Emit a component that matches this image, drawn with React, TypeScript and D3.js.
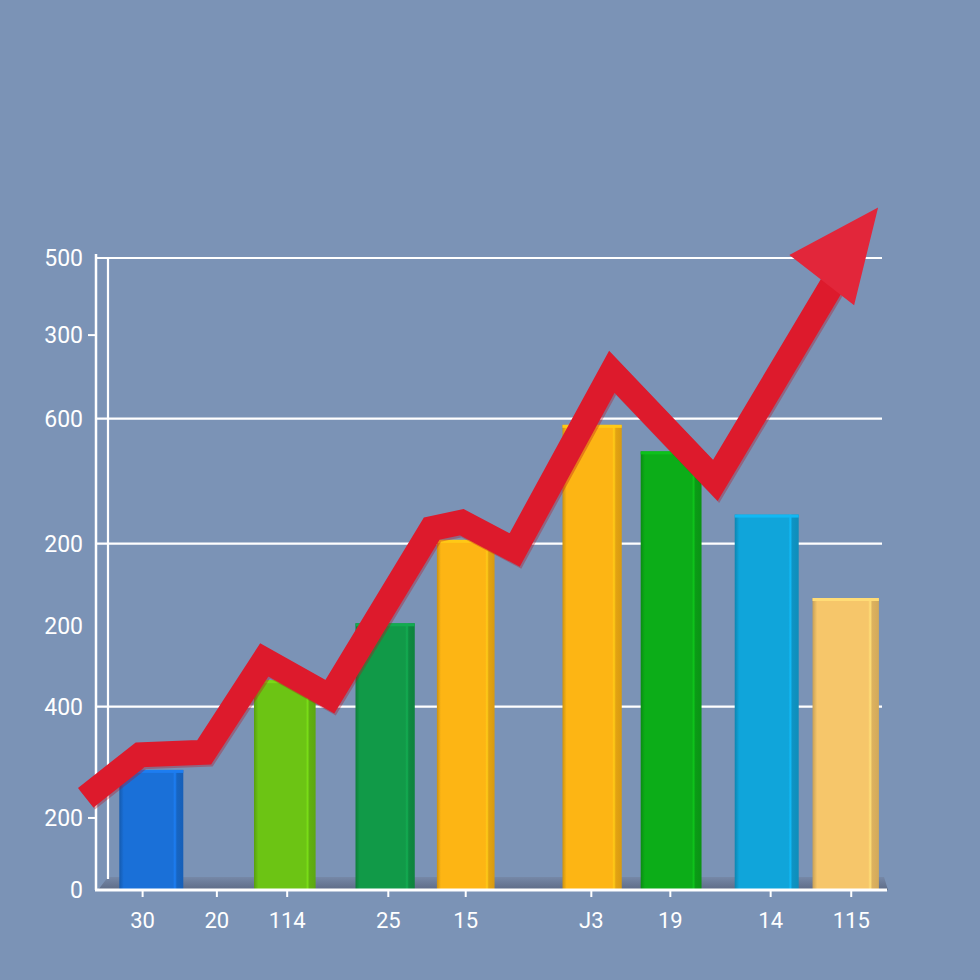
import React from "react";
import * as d3 from "d3";

// ---- data ----
const yTickValues = [500, 439, 373, 274, 209, 145, 57, 0];
const yTickLabels = ["500", "300", "600", "200", "200", "400", "200", "0"];
const gridValues = [500, 373, 274, 145];
const tickMarkValues = [439, 57];

const xLabels = ["30", "20", "114", "25", "15", "J3", "19", "14", "115"];
const xLabelPos = [5.9, 15.3, 24.2, 37.0, 46.8, 62.7, 72.7, 85.4, 95.6];

const barX = [7.0, 23.9, 36.6, 46.8, 62.8, 72.8, 84.9, 94.9];
const barW = [8.1, 7.8, 7.5, 7.3, 7.5, 7.7, 8.1, 8.4];
const barValues = [95, 166, 211, 277, 368, 347, 297, 231];
const barColors = ["#1a70d8", "#6cc414", "#119a48", "#fdb514", "#fdb514", "#0cad18", "#10a5da", "#f6c66a"];

const lineX = [-1.3, 5.6, 13.7, 21.3, 29.6, 42.5, 46.3, 53.0, 65.3, 78.4, 99.0];
const lineY = [73, 107, 109, 182, 153, 286, 291, 269, 410, 324, 540];

const W = 980;
const H = 980;
const BG = "#7b93b6";

export default function App() {
  const x = d3.scaleLinear().domain([0, 100]).range([96, 886]);
  const y = d3.scaleLinear().domain([0, 500]).range([890, 258]);

  const pts: [number, number][] = lineX.map((v, i) => [x(v), y(lineY[i])]);
  const tip = pts[pts.length - 1];
  const prev = pts[pts.length - 2];
  const segAng = Math.atan2(tip[1] - prev[1], tip[0] - prev[0]);
  const headAng = segAng + (7 * Math.PI) / 180;
  const ux = Math.cos(headAng);
  const uy = Math.sin(headAng);
  const headLen = 92;
  const headHalf = 41;
  const base: [number, number] = [tip[0] - ux * headLen, tip[1] - uy * headLen];
  const sux = Math.cos(segAng);
  const suy = Math.sin(segAng);
  const shaftEnd: [number, number] = [tip[0] - sux * (headLen - 8), tip[1] - suy * (headLen - 8)];
  const px = -uy;
  const py = ux;
  const head = [
    tip,
    [base[0] + px * headHalf, base[1] + py * headHalf],
    [base[0] + px * 12, base[1] + py * 12],
    [base[0] - px * 12, base[1] - py * 12],
    [base[0] - px * headHalf, base[1] - py * headHalf],
  ];
  const linePts = [...pts.slice(0, -1), shaftEnd];
  const lineGen = d3.line<[number, number]>().x((d) => d[0]).y((d) => d[1]).curve(d3.curveLinear);

  const font = "Roboto, 'Open Sans', sans-serif";

  return (
    <svg
      width={W}
      height={H}
      viewBox={`0 0 ${W} ${H}`}
      style={{ position: "absolute", left: 0, top: 0, display: "block" }}
    >
      <defs>
        {barColors.map((c, i) => {
          const b = d3.color(c)!;
          return (
            <linearGradient key={i} id={`bg${i}`} x1="0" x2="1" y1="0" y2="0">
              <stop offset="0" stopColor={b.darker(0.6).formatHex()} />
              <stop offset="0.07" stopColor={b.formatHex()} />
              <stop offset="0.84" stopColor={b.formatHex()} />
              <stop offset="0.87" stopColor={b.brighter(0.35).formatHex()} />
              <stop offset="0.9" stopColor={b.darker(0.3).formatHex()} />
              <stop offset="1" stopColor={b.darker(0.45).formatHex()} />
            </linearGradient>
          );
        })}
        <linearGradient id="floor" x1="0" x2="0" y1="0" y2="1">
          <stop offset="0" stopColor="#7688a7" />
          <stop offset="1" stopColor="#5d6b86" />
        </linearGradient>
      </defs>
      <rect x={0} y={0} width={W} height={H} fill={BG} />

      {gridValues.map((v, i) => (
        <line key={i} x1={97} x2={882} y1={y(v)} y2={y(v)} stroke="#ffffff" strokeWidth={2.2} />
      ))}

      <polygon points={`${108},${y(0) - 13} ${884},${y(0) - 13} ${888},${y(0)} ${98},${y(0)}`} fill="url(#floor)" />

      <line x1={96} x2={96} y1={y(500) - 4} y2={y(0)} stroke="#ffffff" strokeWidth={2.5} />
      <line x1={108} x2={108} y1={y(500)} y2={y(0) - 11} stroke="#ffffff" strokeWidth={2.2} />
      {tickMarkValues.map((v, i) => (
        <line key={i} x1={88} x2={96} y1={y(v)} y2={y(v)} stroke="#ffffff" strokeWidth={2} />
      ))}

      {barValues.map((v, i) => {
        const x0 = x(barX[i] - barW[i] / 2);
        const x1 = x(barX[i] + barW[i] / 2);
        return (
          <g key={i}>
            <rect x={x0} y={y(v)} width={x1 - x0} height={y(0) - y(v)} fill={`url(#bg${i})`} />
            <rect x={x0} y={y(v)} width={x1 - x0} height={3} fill={d3.color(barColors[i])!.brighter(0.3).formatHex()} />
          </g>
        );
      })}

      <line x1={95} x2={887} y1={y(0)} y2={y(0)} stroke="#ffffff" strokeWidth={3} />
      {xLabelPos.map((p, i) => (
        <line key={i} x1={x(p)} x2={x(p)} y1={y(0)} y2={y(0) + 7} stroke="#ffffff" strokeWidth={2} />
      ))}

      {yTickValues.map((v, i) => (
        <text
          key={i}
          x={83}
          y={y(v)}
          dy="0.36em"
          textAnchor="end"
          fill="#ffffff"
          fontFamily={font}
          fontSize={23}
        >
          {yTickLabels[i]}
        </text>
      ))}

      {xLabels.map((l, i) => (
        <text
          key={i}
          x={x(xLabelPos[i])}
          y={928}
          textAnchor="middle"
          fill="#ffffff"
          fontFamily={font}
          fontSize={22}
        >
          {l}
        </text>
      ))}

      <path
        d={lineGen(linePts) || ""}
        fill="none"
        stroke="#b8101f"
        strokeWidth={25}
        strokeLinejoin="miter"
        strokeMiterlimit={3}
        transform="translate(1.5,2)"
        opacity={0.35}
      />
      <path
        d={lineGen(linePts) || ""}
        fill="none"
        stroke="#dd1a2c"
        strokeWidth={25}
        strokeLinejoin="miter"
        strokeMiterlimit={3}
      />
      <polygon points={head.map((p) => p.join(",")).join(" ")} fill="#e2263a" />
    </svg>
  );
}
